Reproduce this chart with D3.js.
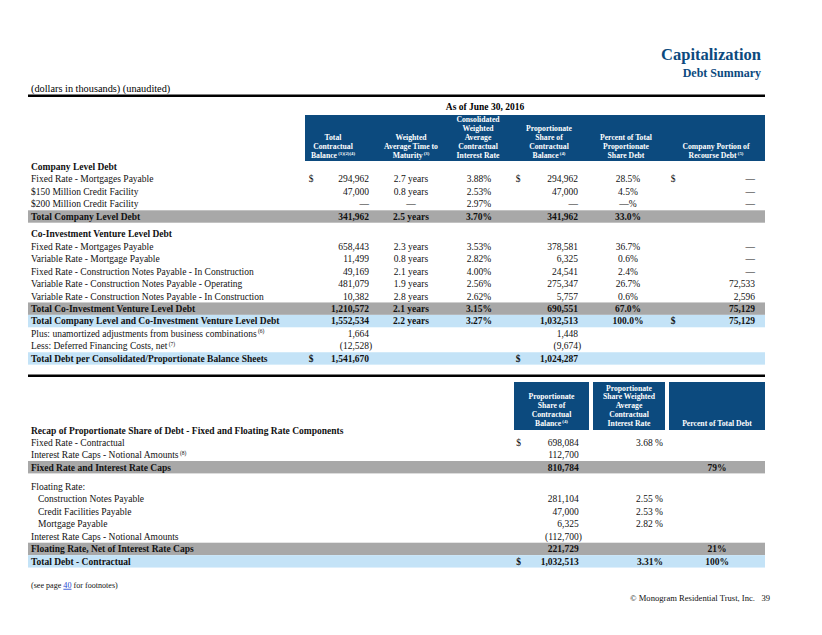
<!DOCTYPE html>
<html><head><meta charset="utf-8">
<script src="https://cdn.jsdelivr.net/npm/d3@7"></script>
<style>
html,body{margin:0;padding:0;background:#fff;}
svg{display:block;font-family:"Liberation Serif","Times New Roman",serif;}
</style></head>
<body><svg id="c" width="822" height="635"></svg>
<script>
// ---------- DATA: Debt Summary ----------
const rowLabels = ["Company Level Debt","Fixed Rate - Mortgages Payable","$150 Million Credit Facility","$200 Million Credit Facility","Total Company Level Debt","Co-Investment Venture Level Debt","Fixed Rate - Mortgages Payable","Variable Rate - Mortgage Payable","Fixed Rate - Construction Notes Payable - In Construction","Variable Rate - Construction Notes Payable - Operating","Variable Rate - Construction Notes Payable - In Construction","Total Co-Investment Venture Level Debt","Total Company Level and Co-Investment Venture Level Debt","Plus: unamortized adjustments from business combinations","Less:  Deferred Financing Costs, net","Total Debt per Consolidated/Proportionate Balance Sheets"];
const rowNotes = [null,null,null,null,null,null,null,null,null,null,null,null,null,"(6)","(7)",null];
const rowKinds = ["section","item","item","item","subtotal","section","item","item","item","item","item","subtotal","total","item","item","total"];
const totalBalance = [null,294962,47000,0,341962,null,658443,11499,49169,481079,10382,1210572,1552534,1664,-12528,1541670];
const maturityYears = [null,2.7,0.8,0,2.5,null,2.3,0.8,2.1,1.9,2.8,2.1,2.2,null,null,null];
const interestRates = [null,3.88,2.53,2.97,3.70,null,3.53,2.82,4.00,2.56,2.62,3.15,3.27,null,null,null];
const propShare = [null,294962,47000,0,341962,null,378581,6325,24541,275347,5757,690551,1032513,1448,-9674,1024287];
const pctShare = [null,28.5,4.5,0,33.0,null,36.7,0.6,2.4,26.7,0.6,67.0,100.0,null,null,null];
const recourseDebt = [null,0,0,0,null,null,0,0,0,72533,2596,75129,75129,null,null,null];
const balDollarRows = [1,15];
const propDollarRows = [1,15];
const recDollarRows = [1,12];
const headers1 = [
  {lines:["Total","Contractual","Balance"], note:"(1)(2)(4)"},
  {lines:["Weighted","Average Time to","Maturity"], note:"(3)"},
  {lines:["Consolidated","Weighted","Average","Contractual","Interest Rate"], note:null},
  {lines:["Proportionate","Share of","Contractual","Balance"], note:"(4)"},
  {lines:["Percent of Total","Proportionate","Share Debt"], note:null},
  {lines:["Company Portion of","Recourse Debt"], note:"(5)"}
];

// ---------- DATA: Recap ----------
const recapLabels = ["Fixed Rate - Contractual","Interest Rate Caps - Notional Amounts","Fixed Rate and Interest Rate Caps","Floating Rate:","Construction Notes Payable","Credit Facilities Payable","Mortgage Payable","Interest Rate Caps - Notional Amounts","Floating Rate, Net of Interest Rate Caps","Total Debt - Contractual"];
const recapNotes = [null,"(8)",null,null,null,null,null,null,null,null];
const recapKinds = ["item","item","subtotal","item","indent","indent","indent","item","subtotal","total"];
const recapShare = [698084,112700,810784,null,281104,47000,6325,-112700,221729,1032513];
const recapRate = [3.68,null,null,null,2.55,2.53,2.82,null,null,3.31];
const recapPct = [null,null,79,null,null,null,null,null,21,100];
const recapDollarRows = [0,9];
const headers2 = [
  {lines:["Proportionate","Share of","Contractual","Balance"], note:"(4)"},
  {lines:["Proportionate","Share Weighted","Average","Contractual","Interest Rate"], note:null},
  {lines:["Percent of Total Debt"], note:null}
];

// ---------- DRAW ----------
const svg = d3.select("#c");
const BLUE = "#0c4a7e", GRAY = "#a8a8a8", LIGHT = "#c4e3f7";
const L = 28, R = 765;
const fs = 9.5;
const fmtN = d3.format(",");
const num = v => v < 0 ? "(" + fmtN(-v) + ")" : (v === 0 ? "—" : fmtN(v));

// titles
svg.append("text").attr("x",761).attr("y",60).attr("text-anchor","end")
  .attr("font-size",16.5).attr("font-weight","bold").attr("fill",BLUE).text("Capitalization");
svg.append("text").attr("x",761).attr("y",77).attr("text-anchor","end")
  .attr("font-size",12).attr("font-weight","bold").attr("fill",BLUE).text("Debt Summary");
svg.append("text").attr("x",31).attr("y",92).attr("font-size",10.3).text("(dollars in thousands) (unaudited)");
svg.append("rect").attr("x",L).attr("y",94.5).attr("width",R-L).attr("height",2.5).attr("fill","#000");
svg.append("text").attr("x",485).attr("y",110).attr("text-anchor","middle").attr("font-size",fs)
  .attr("font-weight","bold").text("As of June 30, 2016");

function drawHeader(g, h, cx, lastBase, step){
  const n = h.lines.length;
  h.lines.forEach((ln,i)=>{
    const t = g.append("text").attr("x",cx).attr("y",lastBase-(n-1-i)*step)
      .attr("text-anchor","middle").attr("font-size",7.7).attr("font-weight","bold").attr("fill","#fff");
    t.append("tspan").text(ln);
    if(i===n-1 && h.note){
      t.append("tspan").attr("font-size",4.8).attr("dy",-2.8).text(" "+h.note);
    }
  });
}

// ---- Table 1 header
const g1 = svg.append("g");
g1.append("rect").attr("x",305).attr("y",115).attr("width",R-305).attr("height",46).attr("fill",BLUE);
const hx1 = d3.scaleOrdinal().domain(d3.range(6)).range([333,411,478,549,626,716]);
headers1.forEach((h,i)=>drawHeader(g1,h,hx1(i),157.5,8.85));

// row y scale
const rowIdx = d3.range(rowLabels.length);
const y1 = i => d3.scaleLinear().domain([0,1]).range([166.7,166.7+12.45])(i) + (i>=5?5:0);

const col = {bal$:311, balEnd:369, yrs:411, rate:479, prop$:518, propEnd:578, pct:628, rec$:673, recEnd:755};

function band(g, yc, kind){
  if(kind==="subtotal"||kind==="total"){
    g.append("rect").attr("x",L).attr("y",yc-6.2).attr("width",R-L).attr("height",12.4)
      .attr("fill", kind==="subtotal"?GRAY:LIGHT);
  }
}
function txt(g,x,yc,s,anchor,bold){
  return g.append("text").attr("x",x).attr("y",yc+3.3).attr("text-anchor",anchor||"start")
    .attr("font-size",fs).attr("font-weight",bold?"bold":"normal").attr("fill","#111").text(s);
}
function numTxt(g,xEnd,yc,v,bold){
  txt(g, v<0 ? xEnd+3.2 : xEnd, yc, num(v), "end", bold);
}

rowIdx.forEach(i=>{
  const yc = y1(i), k = rowKinds[i];
  const bold = k!=="item";
  band(g1,yc,k);
  const t = txt(g1,31,yc,rowLabels[i],"start",bold);
  if(rowNotes[i]) t.append("tspan").attr("font-size",5.5).attr("dy",-3.5).text(" "+rowNotes[i]);
  if(balDollarRows.includes(i)) txt(g1,col.bal$,yc,"$","middle",bold);
  if(totalBalance[i]!==null) numTxt(g1,col.balEnd,yc,totalBalance[i],bold);
  if(maturityYears[i]!==null) txt(g1,col.yrs,yc,maturityYears[i]===0?"—":d3.format(".1f")(maturityYears[i])+" years","middle",bold);
  if(interestRates[i]!==null) txt(g1,col.rate,yc,d3.format(".2f")(interestRates[i])+"%","middle",bold);
  if(propDollarRows.includes(i)) txt(g1,col.prop$,yc,"$","middle",bold);
  if(propShare[i]!==null) numTxt(g1,col.propEnd,yc,propShare[i],bold);
  if(pctShare[i]!==null) txt(g1,col.pct,yc,(pctShare[i]===0?"—":d3.format(".1f")(pctShare[i]))+"%","middle",bold);
  if(recDollarRows.includes(i)) txt(g1,col.rec$,yc,"$","middle",bold);
  if(recourseDebt[i]!==null) numTxt(g1,col.recEnd,yc,recourseDebt[i],bold);
});

// ---- divider
svg.append("rect").attr("x",L).attr("y",374.5).attr("width",R-L).attr("height",2.5).attr("fill","#000");

// ---- Table 2 header
const g2 = svg.append("g");
const boxes = [[514,589],[593,665],[669,R]];
boxes.forEach((b,i)=>{
  g2.append("rect").attr("x",b[0]).attr("y",382).attr("width",b[1]-b[0]).attr("height",48).attr("fill",BLUE);
  drawHeader(g2,headers2[i],(b[0]+b[1])/2,426,8.85);
});
txt(g2,31,430.6,"Recap of Proportionate Share of Debt - Fixed and Floating Rate Components","start",true);

const y2 = i => d3.scaleLinear().domain([0,1]).range([442.3,442.3+12.45])(i) + (i>=3?7:0);
const col2 = {s$:518.7, sEnd:578.7, rateEnd:663, pct:717};
d3.range(recapLabels.length).forEach(i=>{
  const yc = y2(i), k = recapKinds[i];
  const bold = (k==="subtotal"||k==="total");
  band(g2,yc,k);
  const t = txt(g2, k==="indent"?38:31, yc, recapLabels[i], "start", bold);
  if(recapNotes[i]) t.append("tspan").attr("font-size",5.5).attr("dy",-3.5).text(" "+recapNotes[i]);
  if(recapDollarRows.includes(i)) txt(g2,col2.s$,yc,"$","middle",bold);
  if(recapShare[i]!==null) numTxt(g2,col2.sEnd,yc,recapShare[i],bold);
  if(recapRate[i]!==null) txt(g2,col2.rateEnd,yc,d3.format(".2f")(recapRate[i])+(bold?"%":" %"),"end",bold);
  if(recapPct[i]!==null) txt(g2,col2.pct,yc,recapPct[i]+"%","middle",bold);
});

// footnote
const fn = svg.append("text").attr("x",31).attr("y",587.8).attr("font-size",8.1).attr("fill","#111");
fn.append("tspan").text("(see page ");
fn.append("tspan").attr("fill","#1a3fd0").attr("text-decoration","underline").text("40");
fn.append("tspan").text(" for footnotes)");

svg.append("text").attr("x",770).attr("y",600.5).attr("text-anchor","end").attr("font-size",8.6)
  .attr("fill","#111").style("white-space","pre").text("© Monogram Residential Trust, Inc.   39");
</script></body></html>
